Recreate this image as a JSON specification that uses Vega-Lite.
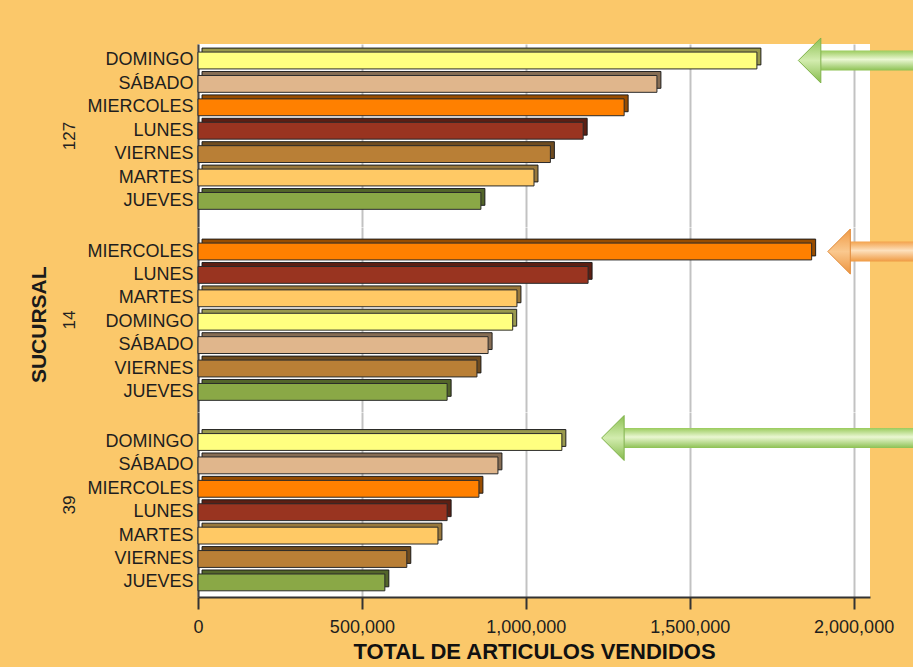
{
  "$schema": "https://vega.github.io/schema/vega-lite/v6.json",
  "background": "#FBC86A",
  "padding": {"top": 37, "left": 28, "right": 0, "bottom": 5},
  "title": {"text": "SUCURSAL", "orient": "left", "anchor": "middle", "fontSize": 21, "fontWeight": "bold", "font": "Liberation Sans", "color": "#1a1a1a", "offset": 11, "dx": 25},
  "data": {"values": [
    {"sucursal": "127", "dia": "DOMINGO", "total": 1705000, "flecha_desde": 1900000, "flecha_hasta": 2200000},
    {"sucursal": "127", "dia": "SÁBADO", "total": 1400000},
    {"sucursal": "127", "dia": "MIERCOLES", "total": 1300000},
    {"sucursal": "127", "dia": "LUNES", "total": 1175000},
    {"sucursal": "127", "dia": "VIERNES", "total": 1075000},
    {"sucursal": "127", "dia": "MARTES", "total": 1025000},
    {"sucursal": "127", "dia": "JUEVES", "total": 863000},
    {"sucursal": "14", "dia": "MIERCOLES", "total": 1872000, "flecha_desde": 1990000, "flecha_hasta": 2200000},
    {"sucursal": "14", "dia": "LUNES", "total": 1190000},
    {"sucursal": "14", "dia": "MARTES", "total": 973000},
    {"sucursal": "14", "dia": "DOMINGO", "total": 960000},
    {"sucursal": "14", "dia": "SÁBADO", "total": 885000},
    {"sucursal": "14", "dia": "VIERNES", "total": 851000},
    {"sucursal": "14", "dia": "JUEVES", "total": 760000},
    {"sucursal": "39", "dia": "DOMINGO", "total": 1110000, "flecha_desde": 1300000, "flecha_hasta": 2200000},
    {"sucursal": "39", "dia": "SÁBADO", "total": 915000},
    {"sucursal": "39", "dia": "MIERCOLES", "total": 857000},
    {"sucursal": "39", "dia": "LUNES", "total": 760000},
    {"sucursal": "39", "dia": "MARTES", "total": 732000},
    {"sucursal": "39", "dia": "VIERNES", "total": 637000},
    {"sucursal": "39", "dia": "JUEVES", "total": 570000}
  ]},
  "vconcat": [
    {
      "width": 672, "height": 183,
      "transform": [{"filter": "datum.sucursal === '127'"}],
      "encoding": {
        "y": {"field": "dia", "type": "nominal", "title": "127",
              "scale": {"domain": ["DOMINGO", "SÁBADO", "MIERCOLES", "LUNES", "VIERNES", "MARTES", "JUEVES"], "paddingInner": 0, "paddingOuter": 0.41, "align": 0.25}}
      },
      "layer": [
        {"mark": {"type": "bar", "xOffset": 4, "yOffset": -4, "height": {"band": 0.72}, "stroke": "#2a2a2a", "strokeWidth": 1},
         "encoding": {
           "x": {"field": "total", "type": "quantitative", "scale": {"domain": [0, 2050000], "nice": false, "zero": true},
                 "axis": {"values": [0, 500000, 1000000, 1500000, 2000000], "grid": true, "labels": false, "ticks": false, "domain": false, "title": null}},
           "color": {"field": "dia", "type": "nominal", "legend": null,
                     "scale": {"domain": ["DOMINGO", "SÁBADO", "MIERCOLES", "LUNES", "VIERNES", "MARTES", "JUEVES"], "range": ["#FFFF80", "#E0B68C", "#FF8000", "#993420", "#B97F36", "#FFC965", "#8AA846"]}}
         }},
        {"mark": {"type": "bar", "xOffset": 4, "yOffset": -4, "height": {"band": 0.72}, "fill": "black", "fillOpacity": 0.4},
         "encoding": {"x": {"field": "total", "type": "quantitative"}}},
        {"mark": {"type": "bar", "height": {"band": 0.72}, "stroke": "#2a2a2a", "strokeWidth": 1},
         "encoding": {"x": {"field": "total", "type": "quantitative"}, "color": {"field": "dia", "type": "nominal", "legend": null}}},
        {"transform": [{"filter": "isValid(datum.flecha_desde)"}],
         "mark": {"type": "bar", "height": 20, "clip": false, "fill": {"gradient": "linear", "x1": 0, "y1": 0, "x2": 0, "y2": 1, "stops": [{"offset": 0, "color": "#9ACB5C"}, {"offset": 0.45, "color": "#EAF7D2"}, {"offset": 1, "color": "#8DC153"}]}},
         "encoding": {"x": {"field": "flecha_desde", "type": "quantitative"}, "x2": {"field": "flecha_hasta"}}},
        {"transform": [{"filter": "isValid(datum.flecha_desde)"}],
         "mark": {"type": "point", "shape": "M -1 0 L 0 -1 L 0 1 Z", "size": 2025, "filled": true, "opacity": 1, "clip": false, "stroke": "#7FB24A", "strokeWidth": 1, "strokeJoin": "round", "fill": {"gradient": "linear", "x1": 0, "y1": 0, "x2": 0, "y2": 1, "stops": [{"offset": 0, "color": "#8DC153"}, {"offset": 0.5, "color": "#D2ECAE"}, {"offset": 1, "color": "#86BB4C"}]}},
         "encoding": {"x": {"field": "flecha_desde", "type": "quantitative"}}}
      ]
    },
    {
      "width": 672, "height": 185,
      "transform": [{"filter": "datum.sucursal === '14'"}],
      "encoding": {
        "y": {"field": "dia", "type": "nominal", "title": "14",
              "scale": {"domain": ["MIERCOLES", "LUNES", "MARTES", "DOMINGO", "SÁBADO", "VIERNES", "JUEVES"], "paddingInner": 0, "paddingOuter": 0.453, "align": 0.604}}
      },
      "layer": [
        {"mark": {"type": "bar", "xOffset": 4, "yOffset": -4, "height": {"band": 0.72}, "stroke": "#2a2a2a", "strokeWidth": 1},
         "encoding": {
           "x": {"field": "total", "type": "quantitative", "scale": {"domain": [0, 2050000], "nice": false, "zero": true},
                 "axis": {"values": [0, 500000, 1000000, 1500000, 2000000], "grid": true, "labels": false, "ticks": false, "domain": false, "title": null}},
           "color": {"field": "dia", "type": "nominal", "legend": null}
         }},
        {"mark": {"type": "bar", "xOffset": 4, "yOffset": -4, "height": {"band": 0.72}, "fill": "black", "fillOpacity": 0.4},
         "encoding": {"x": {"field": "total", "type": "quantitative"}}},
        {"mark": {"type": "bar", "height": {"band": 0.72}, "stroke": "#2a2a2a", "strokeWidth": 1},
         "encoding": {"x": {"field": "total", "type": "quantitative"}, "color": {"field": "dia", "type": "nominal", "legend": null}}},
        {"transform": [{"filter": "isValid(datum.flecha_desde)"}],
         "mark": {"type": "bar", "height": 20, "clip": false, "fill": {"gradient": "linear", "x1": 0, "y1": 0, "x2": 0, "y2": 1, "stops": [{"offset": 0, "color": "#F3A24C"}, {"offset": 0.45, "color": "#FDE0BC"}, {"offset": 1, "color": "#EF9A42"}]}},
         "encoding": {"x": {"field": "flecha_desde", "type": "quantitative"}, "x2": {"field": "flecha_hasta"}}},
        {"transform": [{"filter": "isValid(datum.flecha_desde)"}],
         "mark": {"type": "point", "shape": "M -1 0 L 0 -1 L 0 1 Z", "size": 2025, "filled": true, "opacity": 1, "clip": false, "stroke": "#E08A38", "strokeWidth": 1, "strokeJoin": "round", "fill": {"gradient": "linear", "x1": 0, "y1": 0, "x2": 0, "y2": 1, "stops": [{"offset": 0, "color": "#F09A44"}, {"offset": 0.5, "color": "#FAC88E"}, {"offset": 1, "color": "#EC9440"}]}},
         "encoding": {"x": {"field": "flecha_desde", "type": "quantitative"}}}
      ]
    },
    {
      "width": 672, "height": 185,
      "transform": [{"filter": "datum.sucursal === '39'"}],
      "encoding": {
        "y": {"field": "dia", "type": "nominal", "title": "39",
              "scale": {"domain": ["DOMINGO", "SÁBADO", "MIERCOLES", "LUNES", "MARTES", "VIERNES", "JUEVES"], "paddingInner": 0, "paddingOuter": 0.453, "align": 0.863}}
      },
      "layer": [
        {"mark": {"type": "bar", "xOffset": 4, "yOffset": -4, "height": {"band": 0.72}, "stroke": "#2a2a2a", "strokeWidth": 1},
         "encoding": {
           "x": {"field": "total", "type": "quantitative", "scale": {"domain": [0, 2050000], "nice": false, "zero": true},
                 "axis": {"values": [0, 500000, 1000000, 1500000, 2000000], "format": ",d", "grid": true, "labelFlush": false,
                          "title": "TOTAL DE ARTICULOS VENDIDOS", "titleFontSize": 22, "titleFontWeight": "bold", "titleColor": "#111111", "titlePadding": 5,
                          "labelFontSize": 18, "labelColor": "#1e1e1e", "labelPadding": 9,
                          "tickSize": 12, "tickWidth": 2, "tickColor": "#333333", "domainColor": "#333333", "domainWidth": 2}},
           "color": {"field": "dia", "type": "nominal", "legend": null}
         }},
        {"mark": {"type": "bar", "xOffset": 4, "yOffset": -4, "height": {"band": 0.72}, "fill": "black", "fillOpacity": 0.4},
         "encoding": {"x": {"field": "total", "type": "quantitative"}}},
        {"mark": {"type": "bar", "height": {"band": 0.72}, "stroke": "#2a2a2a", "strokeWidth": 1},
         "encoding": {"x": {"field": "total", "type": "quantitative"}, "color": {"field": "dia", "type": "nominal", "legend": null}}},
        {"transform": [{"filter": "isValid(datum.flecha_desde)"}],
         "mark": {"type": "bar", "height": 20, "yOffset": -4, "clip": false, "fill": {"gradient": "linear", "x1": 0, "y1": 0, "x2": 0, "y2": 1, "stops": [{"offset": 0, "color": "#9ACB5C"}, {"offset": 0.45, "color": "#EAF7D2"}, {"offset": 1, "color": "#8DC153"}]}},
         "encoding": {"x": {"field": "flecha_desde", "type": "quantitative"}, "x2": {"field": "flecha_hasta"}}},
        {"transform": [{"filter": "isValid(datum.flecha_desde)"}],
         "mark": {"type": "point", "shape": "M -1 0 L 0 -1 L 0 1 Z", "size": 2025, "yOffset": -4, "filled": true, "opacity": 1, "clip": false, "stroke": "#7FB24A", "strokeWidth": 1, "strokeJoin": "round", "fill": {"gradient": "linear", "x1": 0, "y1": 0, "x2": 0, "y2": 1, "stops": [{"offset": 0, "color": "#8DC153"}, {"offset": 0.5, "color": "#D2ECAE"}, {"offset": 1, "color": "#86BB4C"}]}},
         "encoding": {"x": {"field": "flecha_desde", "type": "quantitative"}}}
      ]
    }
  ],
  "config": {
    "font": "Liberation Sans",
    "concat": {"spacing": 0},
    "view": {"fill": "white", "stroke": null},
    "axisX": {"gridColor": "#C2C2C2", "gridWidth": 2},
    "axisY": {"ticks": false, "domainColor": "#444444", "domainWidth": 2, "labelFontSize": 18, "labelColor": "#1e1e1e", "labelPadding": 5,
              "titleFontSize": 17, "titleFontWeight": "normal", "titleColor": "#222222", "titlePadding": 8, "grid": false}
  }
}
